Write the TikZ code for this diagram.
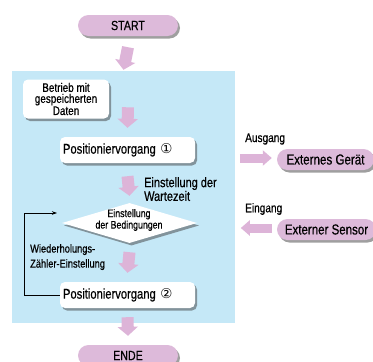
\documentclass[tikz,border=0pt]{standalone}
\usepackage{fontspec}
\setmainfont{Liberation Sans}[FakeStretch=0.80,FakeBold=0.5]
\newfontfamily\dvs{DejaVu Sans}
\usetikzlibrary{shadows,arrows.meta,shapes.geometric}
\definecolor{pinkf}{RGB}{221,186,218}
\definecolor{arrowpink}{RGB}{221,180,216}
\definecolor{bgblue}{RGB}{197,232,247}
\newcommand{\fsz}[2]{\fontsize{#1pt}{#2pt}\selectfont}
\tikzset{
  shad/.style={drop shadow={shadow xshift=2pt, shadow yshift=-2.5pt, opacity=.5, fill=black!75}},
  pill/.style={fill=pinkf, rounded corners=10.5pt, minimum height=21pt, inner sep=0pt, shad},
  wbox/.style={fill=white, rounded corners=5pt, shad},
  blk/.style={draw=arrowpink, line width=12pt, -{Triangle[width=20pt,length=9pt]}},
  hblk/.style={draw=arrowpink, line width=9pt, -{Triangle[width=15pt,length=9pt]}},
  lbl/.style={inner sep=0pt, align=left},
}
\begin{document}
\begin{tikzpicture}[x=1pt,y=-1pt]
\useasboundingbox (0,0) rectangle (373,362);
% background panel
\node[fill=bgblue, minimum width=223pt, minimum height=252pt, inner sep=0pt] (bg) at (123.5,197) {};
% start / end
\node[pill, minimum width=100pt, font=\fsz{13.3}{14}] (start) at (128,25.5) {START};
\node[pill, minimum width=100pt, font=\fsz{13.3}{14}] (ende) at (128,355.5) {ENDE};
% boxes
\node[wbox, minimum width=86pt, minimum height=39pt, align=center, inner sep=0pt, font=\fsz{12.4}{11}] (betrieb) at (66,99) {Betrieb mit\\gespeicherten\\Daten};
\node[wbox, text width=129pt, inner xsep=3pt, inner ysep=0pt, minimum height=26pt, align=left, font=\fsz{14}{14}] (p1) at (127.5,150) {Positioniervorgang {\dvs\fsz{13.5}{14}①}};
\node[wbox, text width=129pt, inner xsep=3pt, inner ysep=0pt, minimum height=26pt, align=left, font=\fsz{14}{14}] (p2) at (127.5,295) {Positioniervorgang {\dvs\fsz{13.5}{14}②}};
\node[diamond, fill=white, minimum width=135pt, minimum height=40pt, inner sep=0pt, shad] (dia) at (129.5,223) {};
\node[lbl, align=center, font=\fsz{11}{11.5}] (diat) at (129,220) {Einstellung\\der Bedingungen};
% labels
\node[lbl, anchor=north west, font=\fsz{13.7}{12}] (wart) at (144,177) {Einstellung der\\Wartezeit};
\node[lbl, anchor=north west, font=\fsz{11.6}{15}] (wdh) at (30,244) {Wiederholungs-\\Zähler-Einstellung};
\node[lbl, anchor=west, font=\fsz{12.6}{13}] (aus) at (245,139) {Ausgang};
\node[lbl, anchor=west, font=\fsz{12.6}{13}] (ein) at (245,209) {Eingang};
% external pills
\node[pill, minimum width=97pt, font=\fsz{14.5}{15}] (ext) at (325.5,159.5) {Externes Gerät};
\node[pill, minimum width=99pt, font=\fsz{14.4}{15}] (sens) at (326.5,229.5) {Externer Sensor};
% block arrows
\draw[blk] ([yshift=-11pt]start.south) -- ([yshift=1pt]bg.north);
\draw[blk] ([xshift=62pt,yshift=-28pt]betrieb.north) -- ([yshift=9pt]p1.north);
\draw[blk] ([yshift=-13pt]p1.south) -- ([yshift=7pt]dia.north);
\draw[blk] ([yshift=-9pt]dia.south) -- ([yshift=9pt]p2.north);
\draw[blk] ([yshift=-9pt]p2.south) -- ([yshift=9pt]ende.north);
\draw[hblk] ([xshift=-37pt,yshift=1.5pt]ext.west) -- ([xshift=-5pt,yshift=1.5pt]ext.west);
\draw[hblk] ([xshift=-5pt,yshift=1.5pt]sens.west) -- ([xshift=-36pt,yshift=1.5pt]sens.west);
% loop connector
\coordinate (loopend) at (57,213);
\draw[line width=0.8pt, -{Stealth[length=5pt,width=3.5pt]}] (p2.west) -- (24,295) |- (loopend);
\end{tikzpicture}
\end{document}
